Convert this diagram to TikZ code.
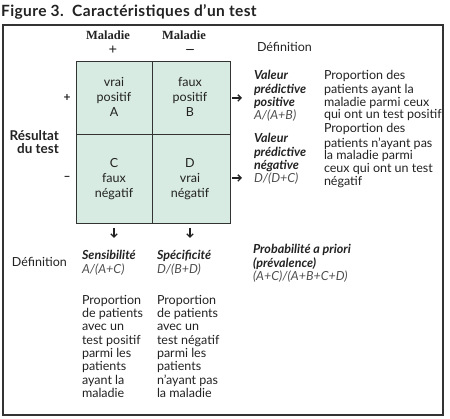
\documentclass[tikz,border=0pt]{standalone}
\usepackage{fontspec}
\setmainfont{Lato}
\newfontfamily\serifbold{Liberation Serif}
\newfontfamily\titlefont[LetterSpace=2.5]{Lato}
\usetikzlibrary{arrows.meta}
\definecolor{cellgreen}{HTML}{D8EBE2}
\definecolor{ink}{HTML}{222222}
\definecolor{framegray}{HTML}{333333}
\tikzset{
  body/.style={inner sep=0pt, outer sep=0pt, anchor=north west, align=left,
    font=\fontsize{12.5}{12.8}\selectfont, text=ink},
  bodyc/.style={inner sep=0pt, outer sep=0pt, anchor=north, align=center,
    font=\fontsize{12.5}{15}\selectfont, text=ink},
  head/.style={inner sep=0pt, anchor=base,
    font=\serifbold\bfseries\fontsize{12.5}{12}\selectfont, text=ink},
  sign/.style={inner sep=0pt, font=\fontsize{12}{12}\selectfont\bfseries, text=ink},
  headsign/.style={inner sep=0pt, font=\serifbold\bfseries\fontsize{15}{15}\selectfont, text=ink},
  cell/.style={draw=framegray, fill=cellgreen, line width=0.8pt},
  pointer/.style={-{Straight Barb[length=3.2pt,width=6.4pt,line width=1.3pt]}, line width=1.3pt, ink},
}
\newcommand{\fs}{\strut}
\begin{document}
\begin{tikzpicture}[x=1pt,y=-1pt]
\useasboundingbox (0,0) rectangle (450,419);

% title and frame
\node[anchor=base west, inner sep=0pt, font=\titlefont\fontsize{15.5}{16}\selectfont\bfseries, text=ink]
  (title) at (1,17) {Figure 3.\ \ Caractéristiques d’un test};
\draw[framegray, line width=1.6pt] (3,25) rectangle (443,415);

% two-by-two table
\draw[cell] (76,61) rectangle (152,134);
\draw[cell] (152,61) rectangle (230,134);
\draw[cell] (76,134) rectangle (152,223);
\draw[cell] (152,134) rectangle (230,223);
\coordinate (tr) at (230,98);
\coordinate (br) at (230,178);
\coordinate (bl) at (114,223);
\coordinate (bm) at (190,223);

% column headings
\node[head] (mplus) at (108,40) {Maladie};
\node[head] (mminus) at (184,40) {Maladie};
\node[headsign] (hplus) at (113,50.5) {+};
\node[headsign] (hminus) at (190,51) {–};
\node[body, anchor=base west] (defh) at (257,52) {Définition};

% row headings
\node[sign] (rplus) at (67,98) {+};
\node[sign] (rminus) at (67,178) {–};
\node[inner sep=0pt, anchor=north east, align=right, text=ink,
  font=\fontsize{13.5}{13.5}\selectfont\bfseries] (res) at (59,130) {Résultat\\du test};

% cell contents
\node[bodyc] (ca) at (114,76) {\fs vrai\\positif\\A};
\node[bodyc] (cb) at (190,76) {\fs faux\\positif\\B};
\node[bodyc] (cc) at (114,157) {\fs C\\faux\\négatif};
\node[bodyc] (cd) at (190,157) {\fs D\\vrai\\négatif};

% predictive values
\node[body] (vpp) at (254,70) {\fs\textbf{\textit{Valeur}}\\\textbf{\textit{prédictive}}\\\textbf{\textit{positive}}\\\textcolor{ink!80}{\textit{A/(A+B)}}};
\node[body] (vppd) at (324,70) {\fs Proportion des\\patients ayant la\\maladie parmi ceux\\qui ont un test positif};
\node[body] (vpn) at (254,133.5) {\fs\textbf{\textit{Valeur}}\\\textbf{\textit{prédictive}}\\\textbf{\textit{négative}}\\\textcolor{ink!80}{\textit{D/(D+C)}}};
\node[body] (vpnd) at (324,123.5) {\fs Proportion des\\patients n’ayant pas\\la maladie parmi\\ceux qui ont un test\\négatif};

% sensitivity and specificity
\node[body, anchor=base west] (defl) at (12,267) {Définition};
\node[body] (sens) at (82,250) {\fs\textbf{\textit{Sensibilité}}\\\textcolor{ink!80}{\textit{A/(A+C)}}};
\node[body] (spec) at (157,250) {\fs\textbf{\textit{Spécificité}}\\\textcolor{ink!80}{\textit{D/(B+D)}}};
\node[body, font=\fontsize{12.5}{13.3}\selectfont] (sensd) at (82,295) {\fs Proportion\\de patients\\avec un\\test positif\\parmi les\\patients\\ayant la\\maladie};
\node[body, font=\fontsize{12.5}{13.3}\selectfont] (specd) at (157,295) {\fs Proportion\\de patients\\avec un\\test négatif\\parmi les\\patients\\n’ayant pas\\la maladie};

% prevalence
\node[body, font=\fontsize{12.5}{12.3}\selectfont] (prev) at (253,244) {\fs\textbf{\textit{Probabilité a priori}}\\\textbf{\textit{(prévalence)}}\\\textcolor{ink!80}{\textit{(A+C)/(A+B+C+D)}}};

% pointers
\draw[pointer] ([xshift=2pt]tr) -- ([xshift=12pt]tr);
\draw[pointer] ([xshift=2pt]br) -- ([xshift=12pt]br);
\draw[pointer] ([yshift=-5pt]bl) -- ([yshift=-15pt]bl);
\draw[pointer] ([yshift=-5pt]bm) -- ([yshift=-15pt]bm);
\end{tikzpicture}
\end{document}
